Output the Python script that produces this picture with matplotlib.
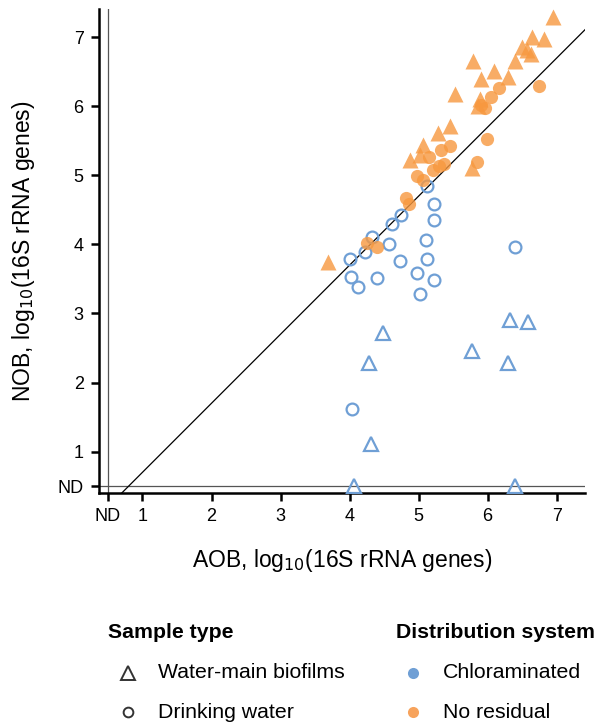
import matplotlib
matplotlib.use("Agg")
import matplotlib.pyplot as plt
from matplotlib.lines import Line2D

plt.rcParams['font.family'] = ['Liberation Sans', 'DejaVu Sans']

ND = 0.5
tick_vals = [0.5, 1, 2, 3, 4, 5, 6, 7]
tick_labels = ['ND', '1', '2', '3', '4', '5', '6', '7']

# Chloraminated, water-main biofilms (open triangles)
cl_bio_x = [4.49, 4.28, 6.32, 6.59, 5.78, 6.29, 4.31, 4.07, 6.39]
cl_bio_y = [2.72, 2.29, 2.91, 2.87, 2.45, 2.29, 1.11, 0.5, 0.5]

# Chloraminated, drinking water (open circles)
cl_dw_x = [5.12, 5.22, 5.22, 4.75, 4.62, 4.33, 4.57, 4.23, 4.01, 5.11,
           5.12, 4.73, 4.02, 4.39, 4.12, 4.98, 5.22, 5.02, 6.39, 4.03]
cl_dw_y = [4.85, 4.59, 4.35, 4.42, 4.29, 4.11, 4.01, 3.89, 3.79, 4.07,
           3.79, 3.76, 3.53, 3.51, 3.39, 3.58, 3.49, 3.28, 3.97, 1.61]

# No residual, drinking water (filled circles)
nr_dw_x = [4.25, 4.39, 4.82, 4.86, 4.97, 5.07, 5.15, 5.33, 5.45, 5.21,
           5.29, 5.37, 5.99, 5.84, 5.91, 5.96, 6.05, 6.16, 6.75]
nr_dw_y = [4.02, 3.97, 4.67, 4.59, 4.99, 4.94, 5.26, 5.37, 5.43, 5.08,
           5.14, 5.17, 5.53, 5.19, 6.02, 5.98, 6.13, 6.27, 6.30]

# No residual, water-main biofilms (filled triangles)
nr_bio_x = [3.68, 4.88, 5.02, 5.07, 5.28, 5.46, 5.53, 5.79, 5.91, 6.09,
            6.30, 6.40, 5.78, 5.89, 5.86, 6.50, 6.57, 6.63, 6.64, 6.82, 6.95]
nr_bio_y = [3.74, 5.23, 5.30, 5.44, 5.61, 5.72, 6.18, 6.65, 6.39, 6.51,
            6.43, 6.65, 5.11, 6.10, 6.00, 6.86, 6.81, 6.76, 7.01, 6.98, 7.30]

fit_slope = 1.0
fit_intercept = -0.3

BLUE = '#6f9fd5'
ORANGE = '#f7983f'

W, H = 598, 726
fig = plt.figure(figsize=(W / 100, H / 100), dpi=100)
ax = fig.add_axes([99 / W, 1 - 493 / H, (585 - 99) / W, (493 - 9) / H])

ax.set_xlim(0.37, 7.41)
ax.set_ylim(0.4, 7.41)

ax.axvline(ND, color='#555555', lw=0.9, zorder=1)
ax.axhline(ND, color='#555555', lw=0.9, zorder=1)
ax.axline((0, fit_intercept), slope=fit_slope, color='black', lw=0.9, zorder=2)

ax.plot(cl_bio_x, cl_bio_y, linestyle='none', marker='^', ms=10.5,
        mfc='none', mec=BLUE, mew=1.6, zorder=3)
ax.plot(cl_dw_x, cl_dw_y, linestyle='none', marker='o', ms=8.5,
        mfc='none', mec=BLUE, mew=1.6, zorder=3)
ax.plot(nr_dw_x, nr_dw_y, linestyle='none', marker='o', ms=9.5,
        mfc=ORANGE, mec='none', alpha=0.8, zorder=4)
ax.plot(nr_bio_x, nr_bio_y, linestyle='none', marker='^', ms=11,
        mfc=ORANGE, mec='none', alpha=0.8, zorder=4)

ax.set_xticks(tick_vals)
ax.set_xticklabels(tick_labels)
ax.set_yticks(tick_vals)
ax.set_yticklabels(tick_labels)
ax.tick_params(axis='both', direction='out', length=6, width=1.8,
               labelsize=13, colors='black', pad=5)
for s in ['top', 'right']:
    ax.spines[s].set_visible(False)
for s in ['left', 'bottom']:
    ax.spines[s].set_linewidth(1.8)

ax.set_xlabel('AOB, log$_{10}$(16S rRNA genes)', fontsize=16.5, labelpad=16)
ax.set_ylabel('NOB, log$_{10}$(16S rRNA genes)', fontsize=16.5, labelpad=15)

# Legend
def fx(px):
    return px / W

def fy(py):
    return 1 - py / H

fig.text(fx(108), fy(632), 'Sample type', fontsize=15.3, fontweight='bold',
         va='center', ha='left')
fig.text(fx(396), fy(632), 'Distribution system', fontsize=15.3,
         fontweight='bold', va='center', ha='left')

leg_items = [
    (128, 673, '^', 'none', '#333333', 'Water-main biofilms'),
    (128, 712, 'o', 'none', '#333333', 'Drinking water'),
    (413, 673, 'o', BLUE, 'none', 'Chloraminated'),
    (413, 712, 'o', '#f7a35c', 'none', 'No residual'),
]
for px, py, m, fc, ec, lab in leg_items:
    ms = 9.5 if m == '^' else (7 if fc == 'none' else 8)
    fig.add_artist(Line2D([fx(px)], [fy(py)], transform=fig.transFigure,
                          marker=m, ms=ms, mfc=fc, mec=ec, mew=1.4,
                          linestyle='none'))
    fig.text(fx(px + 30), fy(py), lab, fontsize=15.3, va='center', ha='left')

fig.savefig('out.png', dpi=100)
